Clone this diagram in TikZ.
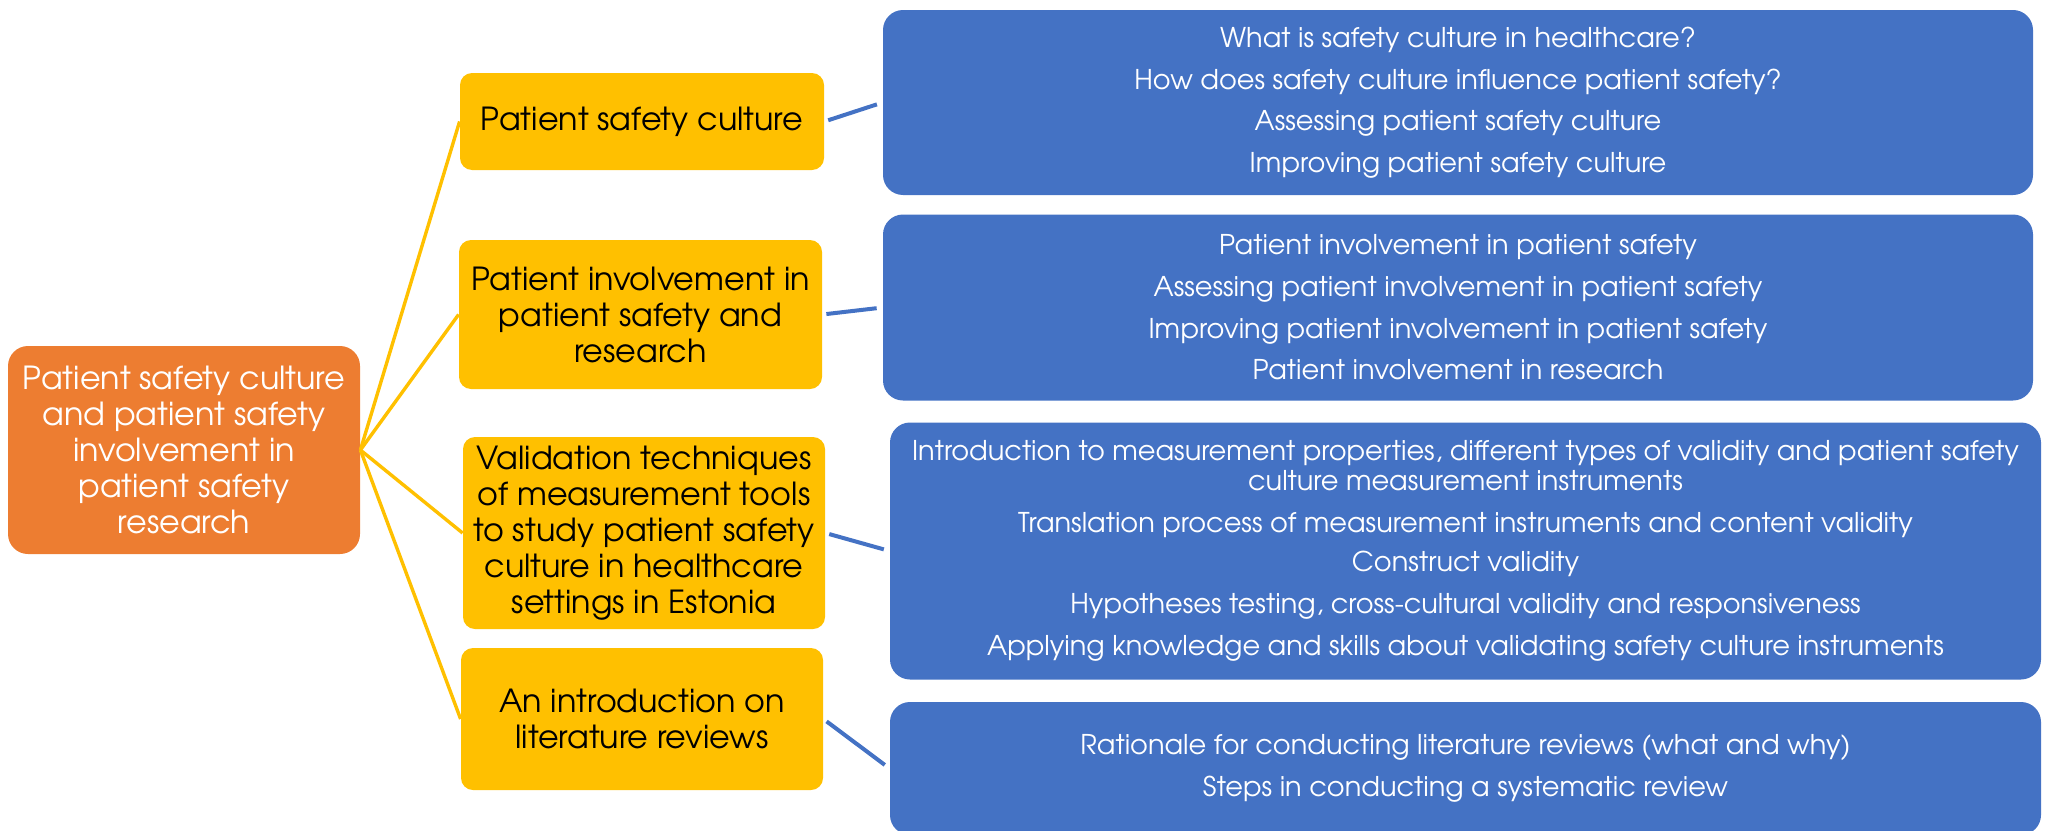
\documentclass[tikz,border=0pt]{standalone}
\usepackage{fontspec}
\setmainfont{TeX Gyre Adventor}
\definecolor{orng}{HTML}{ED7D31}
\definecolor{yel}{HTML}{FFC000}
\definecolor{blu}{HTML}{4472C4}
\begin{document}
\begin{tikzpicture}[x=0.5pt,y=-0.5pt,
  rootbox/.style={fill=orng, rounded corners=10pt, text=white, align=center, inner sep=0pt,
    font=\fontsize{15.9}{17.9}\selectfont},
  topicbox/.style={fill=yel, rounded corners=6pt, text=black, align=center, inner sep=0pt,
    font=\fontsize{15.9}{18}\selectfont},
  detailbox/.style={fill=blu, rounded corners=10pt, text=white, align=center, inner sep=0pt,
    font=\fontsize{13.6}{15}\selectfont},
  yline/.style={draw=yel, line width=1.7pt},
  bline/.style={draw=blu, line width=2pt, shorten <=2pt, shorten >=3pt}]
\useasboundingbox (0,0) rectangle (2045,830);

\node[rootbox, minimum width=176pt, minimum height=104pt] (root) at (184,450)
  {Patient safety culture\\and patient safety\\involvement in\\patient safety\\research};

\node[topicbox, minimum width=182pt, minimum height=48.5pt] (t1) at (642,121.5)
  {Patient safety culture};
\node[topicbox, minimum width=181.5pt, minimum height=74.5pt] (t2) at (640.5,314.5)
  {Patient involvement in\\patient safety and\\research};
\node[topicbox, minimum width=181pt, minimum height=96pt] (t3) at (644,533)
  {Validation techniques\\of measurement tools\\to study patient safety\\culture in healthcare\\settings in Estonia};
\node[topicbox, minimum width=181pt, minimum height=71pt] (t4) at (642,719)
  {An introduction on\\literature reviews};

\node[detailbox, minimum width=575pt, minimum height=92.5pt] (d1) at (1458,102.5)
  {What is safety culture in healthcare?\\[5.8pt]
   How does safety culture influence patient safety?\\[5.8pt]
   Assessing patient safety culture\\[5.8pt]
   Improving patient safety culture};
\node[detailbox, minimum width=575pt, minimum height=93pt] (d2) at (1458,307.5)
  {Patient involvement in patient safety\\[5.8pt]
   Assessing patient involvement in patient safety\\[5.8pt]
   Improving patient involvement in patient safety\\[5.8pt]
   Patient involvement in research};
\node[detailbox, minimum width=575.5pt, minimum height=128.5pt] (d3) at (1465.5,551)
  {Introduction to measurement properties, different types of validity and patient safety\\
   culture measurement instruments\\[6pt]
   Translation process of measurement instruments and content validity\\[4.5pt]
   Construct validity\\[6pt]
   Hypotheses testing, cross-cultural validity and responsiveness\\[6pt]
   Applying knowledge and skills about validating safety culture instruments};
\node[detailbox, minimum width=575.5pt, minimum height=66.5pt] (d4) at (1465.5,768.5)
  {Rationale for conducting literature reviews (what and why)\\[5.8pt]
   Steps in conducting a systematic review};

\foreach \t in {t1,t2,t3,t4} \draw[yline] (root.east) -- (\t.west);
\draw[bline] (t1.east) -- (d1.west);
\draw[bline] (t2.east) -- (d2.west);
\draw[bline] (t3.east) -- (d3.west);
\draw[bline] (t4.east) -- (d4.west);
\end{tikzpicture}
\end{document}
